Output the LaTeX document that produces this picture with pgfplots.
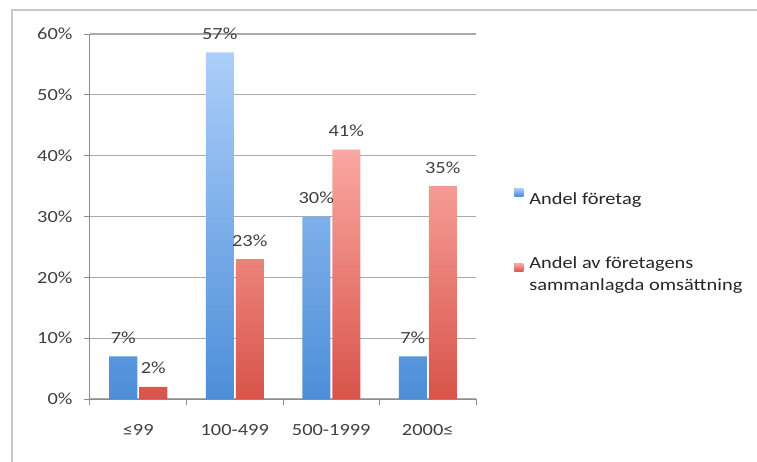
\documentclass[border=0pt]{standalone}
\usepackage{pgfplots}
\pgfplotsset{compat=1.18}
\usepackage{fontspec}
\setmainfont{Carlito}[FakeStretch=1.2]

\definecolor{bluetop}{RGB}{172,206,250}
\definecolor{bluebot}{RGB}{76,142,216}
\definecolor{redtop}{RGB}{250,168,162}
\definecolor{redbot}{RGB}{216,84,74}
\definecolor{blueleg}{RGB}{96,156,226}
\definecolor{redleg}{RGB}{226,104,100}
\definecolor{labelgray}{RGB}{64,64,64}
\definecolor{axisgray}{RGB}{140,140,140}
\definecolor{gridgray}{RGB}{170,170,170}
\definecolor{framegray}{RGB}{200,200,200}

\begin{document}
\begin{tikzpicture}[font=\fontsize{17}{21}\selectfont, text=labelgray]
\useasboundingbox (-90pt,-62pt) rectangle (667pt,399pt);
% chart area frame
\draw[framegray, line width=1.5pt] (-78pt,-80pt) -- (-78pt,389pt) -- (690pt,389pt);
\begin{axis}[
  at={(0pt,0pt)}, anchor=south west,
  scale only axis,
  width=386pt, height=365pt,
  ybar, bar width=28pt,
  xmin=-0.5, xmax=3.5,
  ymin=0, ymax=60,
  axis lines*=left,
  axis line style={axisgray, line width=1pt},
  xtick={0,1,2,3},
  xticklabels={≤99,100-499,500-1999,2000≤},
  minor xtick={-0.5,0.5,1.5,2.5,3.5},
  major x tick style={draw=none},
  minor x tick style={axisgray, line width=1pt},
  minor tick length=6pt,
  ytick={0,10,20,30,40,50,60},
  yticklabels={0\%,10\%,20\%,30\%,40\%,50\%,60\%},
  y tick style={axisgray, line width=1pt},
  major tick length=6pt,
  tick align=outside,
  ymajorgrids,
  grid style={gridgray, line width=1.2pt},
  xticklabel style={yshift=-16pt, text=labelgray},
  yticklabel style={xshift=-8pt, text=labelgray},
  nodes near coords={\pgfmathprintnumber[assume math mode=true]{\pgfplotspointmeta}\%},
  every node near coord/.append style={text=labelgray, anchor=base, yshift=13pt},
  legend style={draw=none, fill=none, at={(1.091,0.434)}, anchor=west,
    row sep=49pt, column sep=5pt, font=\fontsize{17}{22}\selectfont,
    nodes={text=black!85, align=left, inner sep=1pt}},
  legend cell align=left,
]
\addplot[draw=none, top color=bluetop, bottom color=bluebot,
  legend image code/.code={\fill[blueleg] (0pt,3pt) rectangle (9pt,11pt);}]
  coordinates {(0,7) (1,57) (2,30) (3,7)};
\addlegendentry{Andel företag}
\addplot[draw=none, top color=redtop, bottom color=redbot,
  legend image code/.code={\fill[redleg] (0pt,3pt) rectangle (9pt,11pt);}]
  coordinates {(0,2) (1,23) (2,41) (3,35)};
\addlegendentry{Andel av företagens\\sammanlagda omsättning}
\end{axis}
\end{tikzpicture}
\end{document}
